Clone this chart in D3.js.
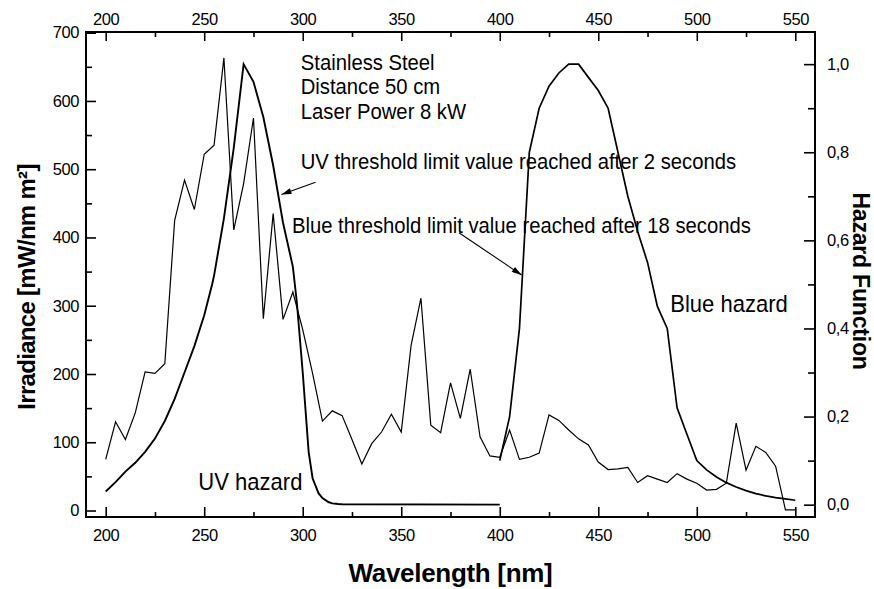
<!DOCTYPE html>
<html>
<head>
<meta charset="utf-8">
<script src="https://cdn.jsdelivr.net/npm/d3@7"></script>
<style>
  body { margin: 0; background: #fff; }
  text { font-family: "Liberation Sans", Arial, sans-serif; fill: #000; }
</style>
</head>
<body>
<script>
// irradiance spectrum, every 5 nm (left axis)
const irrWavelength = [200, 205, 210, 215, 220, 225, 230, 235, 240, 245, 250, 255, 260, 265, 270, 275, 280, 285,
  290, 295, 300, 305, 310, 315, 320, 325, 330, 335, 340, 345, 350, 355, 360, 365, 370, 375, 380, 385, 390, 395,
  400, 405, 410, 415, 420, 425, 430, 435, 440, 445, 450, 455, 460, 465, 470, 475, 480, 485, 490, 495, 500, 505,
  510, 515, 520, 525, 530, 535, 540, 545, 550];
const irradiance = [75, 130, 104, 143, 203, 201, 215, 425, 484, 441, 522, 535, 663, 411, 479, 575, 281, 435,
  280, 320, 265, 201, 131, 146, 139, 104, 68, 98, 115, 141, 115, 242, 311, 125, 114, 187, 135, 207, 108, 80,
  78, 118, 75, 78, 84, 140, 132, 118, 105, 96, 71, 60, 61, 63, 41, 51, 46, 41, 54, 46, 40, 30,
  31, 40, 128, 59, 94, 85, 65, 1, 1];

// UV hazard function (right axis)
const uvWavelength = [200, 205, 210, 215, 220, 225, 230, 235, 240, 245, 250, 254, 255, 260, 265, 270, 275, 280,
  285, 290, 295, 297, 300, 303, 305, 308, 310, 313, 315, 316, 317, 318, 320, 400];
const uvHazard = [0.030, 0.051, 0.075, 0.095, 0.120, 0.150, 0.190, 0.240, 0.300, 0.360, 0.430, 0.500, 0.520,
  0.650, 0.810, 1.000, 0.960, 0.880, 0.770, 0.640, 0.540, 0.460, 0.300, 0.120, 0.060, 0.026, 0.015, 0.006,
  0.003, 0.0024, 0.0020, 0.0016, 0.0010, 0.00003];

// Blue light hazard function (right axis)
const blueWavelength = [400, 405, 410, 415, 420, 425, 430, 435, 440, 445, 450, 455, 460, 465, 470, 475, 480,
  485, 490, 495, 500, 505, 510, 515, 520, 525, 530, 535, 540, 545, 550];
const blueHazard = [0.10, 0.20, 0.40, 0.80, 0.90, 0.95, 0.98, 1.00, 1.00, 0.97, 0.94, 0.90, 0.80, 0.70, 0.62,
  0.55, 0.45, 0.40, 0.22, 0.16, 0.10, 0.079, 0.063, 0.050, 0.040, 0.032, 0.025, 0.020, 0.016, 0.013, 0.010];

const xTicks = [200, 250, 300, 350, 400, 450, 500, 550];
const leftTicks = [0, 100, 200, 300, 400, 500, 600, 700];
const rightTicks = [0.0, 0.2, 0.4, 0.6, 0.8, 1.0];

const width = 874, height = 589;
const margin = { top: 32, right: 59, bottom: 72, left: 86 };

const svg = d3.select('body').append('svg')
  .attr('width', width)
  .attr('height', height);

const x = d3.scaleLinear().domain([190, 560]).range([margin.left, width - margin.right]);
const yLeft = d3.scaleLinear().domain([-9.5, 701]).range([height - margin.bottom, margin.top]);
const yRight = d3.scaleLinear().domain([-0.028, 1.073]).range([height - margin.bottom, margin.top]);

const mids = (t) => t.slice(1).map((v, i) => (v + t[i]) / 2);
const comma = (d) => d3.format('.1f')(d).replace('.', ',');

// arrow head
svg.append('defs').append('marker')
  .attr('id', 'arrow')
  .attr('viewBox', '0 0 10 6')
  .attr('refX', 10).attr('refY', 3)
  .attr('markerWidth', 11).attr('markerHeight', 6)
  .attr('markerUnits', 'userSpaceOnUse')
  .attr('orient', 'auto')
  .append('path').attr('d', 'M0,0L10,3L0,6Z').attr('fill', '#000');

function styleAxis(g) {
  g.select('.domain').remove();
  g.selectAll('line').attr('stroke', '#000').attr('stroke-width', 1.6);
  g.selectAll('text')
    .style('font-size', '16.5px')
    .style('letter-spacing', '-0.4px')
    .style('font-family', '"Liberation Sans", Arial, sans-serif');
}

const bottom = height - margin.bottom, right = width - margin.right;

// bottom axis
svg.append('g').attr('transform', `translate(0,${bottom})`)
  .call(d3.axisBottom(x).tickValues(xTicks).tickSize(-10).tickPadding(12))
  .call(styleAxis);
svg.append('g').attr('transform', `translate(0,${bottom})`)
  .call(d3.axisBottom(x).tickValues(mids(xTicks)).tickSize(-5).tickFormat(''))
  .call(styleAxis);

// top axis
svg.append('g').attr('transform', `translate(0,${margin.top})`)
  .call(d3.axisTop(x).tickValues(xTicks).tickSize(-9).tickPadding(7))
  .call(styleAxis);
svg.append('g').attr('transform', `translate(0,${margin.top})`)
  .call(d3.axisTop(x).tickValues(mids(xTicks)).tickSize(-5).tickFormat(''))
  .call(styleAxis);

// left axis
svg.append('g').attr('transform', `translate(${margin.left},0)`)
  .call(d3.axisLeft(yLeft).tickValues(leftTicks).tickSize(-10).tickPadding(7))
  .call(styleAxis);
svg.append('g').attr('transform', `translate(${margin.left},0)`)
  .call(d3.axisLeft(yLeft).tickValues(mids(leftTicks)).tickSize(-6).tickFormat(''))
  .call(styleAxis);

// right axis
svg.append('g').attr('transform', `translate(${right},0)`)
  .call(d3.axisRight(yRight).tickValues(rightTicks).tickSize(-11).tickPadding(12).tickFormat(comma))
  .call(styleAxis);
svg.append('g').attr('transform', `translate(${right},0)`)
  .call(d3.axisRight(yRight).tickValues(mids(rightTicks)).tickSize(-7).tickFormat(''))
  .call(styleAxis);

// frame
svg.append('rect')
  .attr('x', margin.left).attr('y', margin.top)
  .attr('width', right - margin.left).attr('height', bottom - margin.top)
  .attr('fill', 'none').attr('stroke', '#000').attr('stroke-width', 2);

// curves
const irrLine = d3.line().x((d, i) => x(irrWavelength[i])).y((d) => yLeft(d));
const hazardLine = (wl) => d3.line().x((d, i) => x(wl[i])).y((d) => yRight(d));

svg.append('path')
  .attr('d', irrLine(irradiance))
  .attr('fill', 'none').attr('stroke', '#000').attr('stroke-width', 1.2);

svg.append('path')
  .attr('d', hazardLine(uvWavelength)(uvHazard))
  .attr('fill', 'none').attr('stroke', '#000').attr('stroke-width', 1.9);

svg.append('path')
  .attr('d', hazardLine(blueWavelength)(blueHazard))
  .attr('fill', 'none').attr('stroke', '#000').attr('stroke-width', 1.7);

// annotations, placed in wavelength / irradiance units; the original type is tall and narrow
const notes = [
  { text: 'Stainless Steel', wl: 299, val: 646, size: 22.5 },
  { text: 'Distance 50 cm', wl: 299, val: 610, size: 22.5 },
  { text: 'Laser Power 8 kW', wl: 299, val: 573, size: 22.5 },
  { text: 'UV threshold limit value reached after 2 seconds', wl: 299, val: 501, size: 22.5 },
  { text: 'Blue threshold limit value reached after 18 seconds', wl: 294.5, val: 407, size: 22.5 },
  { text: 'Blue hazard', wl: 486.5, val: 291, size: 24.5 },
  { text: 'UV hazard', wl: 247, val: 30, size: 24.5 }
];

svg.append('g').selectAll('text')
  .data(notes)
  .enter().append('text')
  .attr('transform', (d) => `translate(${x(d.wl)},${yLeft(d.val)}) scale(0.9,1)`)
  .style('font-size', (d) => `${d.size}px`)
  .text((d) => d.text);

const arrows = [
  { from: [306.5, 481], to: [289.2, 463] },
  { from: [379.3, 407], to: [411.1, 345] }
];

svg.append('g').selectAll('line')
  .data(arrows)
  .enter().append('line')
  .attr('x1', (d) => x(d.from[0])).attr('y1', (d) => yLeft(d.from[1]))
  .attr('x2', (d) => x(d.to[0])).attr('y2', (d) => yLeft(d.to[1]))
  .attr('stroke', '#000').attr('stroke-width', 1.1)
  .attr('marker-end', 'url(#arrow)');

// axis titles
svg.append('text')
  .attr('x', (margin.left + right) / 2).attr('y', 582)
  .attr('text-anchor', 'middle')
  .style('font-size', '26px').style('font-weight', 'bold').style('letter-spacing', '-0.3px')
  .text('Wavelength [nm]');

svg.append('text')
  .attr('transform', 'translate(35,287) rotate(-90)')
  .attr('text-anchor', 'middle')
  .style('font-size', '24px').style('font-weight', 'bold').style('letter-spacing', '-0.7px')
  .text('Irradiance [mW/nm m²]');

svg.append('text')
  .attr('transform', 'translate(853,281) rotate(90)')
  .attr('text-anchor', 'middle')
  .style('font-size', '23px').style('font-weight', 'bold').style('letter-spacing', '-0.2px')
  .text('Hazard Function');
</script>
</body>
</html>
